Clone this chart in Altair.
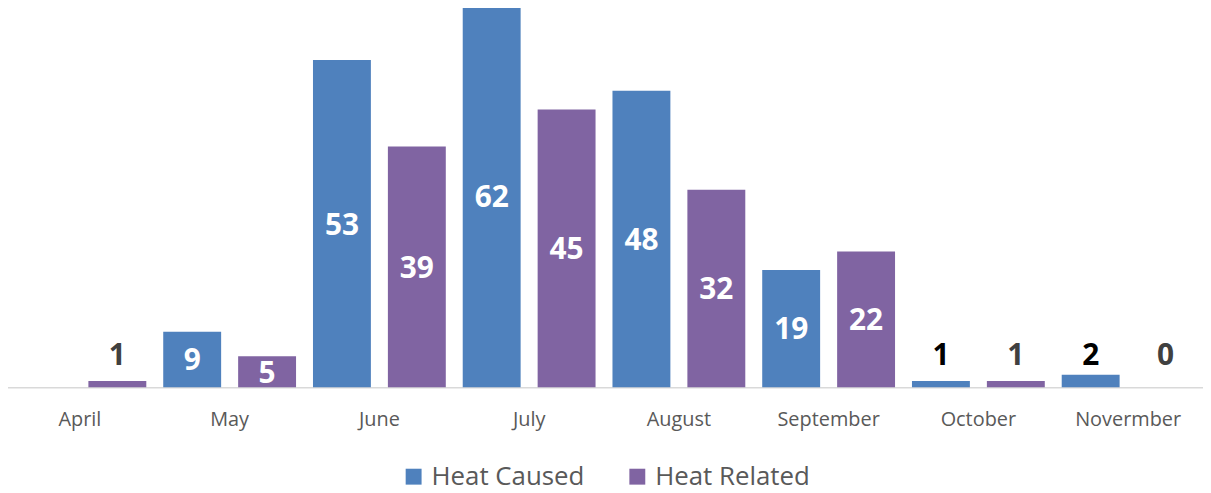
import altair as alt
import pandas as pd

months = ["April", "May", "June", "July", "August", "September", "October", "Novermber"]
heat_caused = [None, 9, 53, 62, 48, 19, 1, 2]
heat_related = [1, 5, 39, 45, 32, 22, 1, 0]
series = ["Heat Caused", "Heat Related"]
colors = ["#4F81BD", "#8064A2"]

rows = []
for i, m in enumerate(months):
    rows.append({"month": m, "series": series[0], "value": heat_caused[i]})
    rows.append({"month": m, "series": series[1], "value": heat_related[i]})
df = pd.DataFrame(rows)
df = df[df["value"].notna()]

FONT = "Open Sans"

x = alt.X("month:N", sort=months, title=None,
          scale=alt.Scale(paddingInner=0, paddingOuter=0),
          axis=alt.Axis(labelAngle=0, ticks=False, domain=True, domainColor="#d9d9d9",
                        domainWidth=1.5, labelFont=FONT, labelFontSize=20,
                        labelColor="#595959", labelPadding=23, grid=False))
xo = alt.XOffset("series:N", sort=series,
                 scale=alt.Scale(paddingInner=0.227, paddingOuter=0.113))
y_scale = alt.Scale(domain=[0, 62], nice=False)

bars = alt.Chart(df).mark_bar(clip=False).encode(
    x=x,
    xOffset=xo,
    y=alt.Y("value:Q", scale=y_scale, axis=None),
    color=alt.Color("series:N", sort=series,
                    scale=alt.Scale(domain=series, range=colors),
                    legend=alt.Legend(title=None, orient="none", direction="horizontal",
                                      legendX=398, legendY=462,
                                      symbolType="square", symbolSize=256,
                                      symbolStrokeWidth=0, labelFont=FONT,
                                      labelFontSize=26, labelColor="#595959",
                                      labelLimit=400,
                                      labelOffset=5, columnPadding=40)),
)

labels_in = alt.Chart(df).transform_filter("datum.value > 3").transform_calculate(
    ly="datum.value / 2"
).mark_text(font=FONT, fontSize=30, fontWeight="bold", color="white",
            baseline="middle", dy=2).encode(
    x=alt.X("month:N", sort=months),
    xOffset=xo,
    y=alt.Y("ly:Q", scale=y_scale),
    text=alt.Text("value:Q"),
)

labels_out = alt.Chart(df).transform_filter("datum.value <= 3").transform_calculate(
    ly="5.0"
).mark_text(font=FONT, fontSize=30, fontWeight="bold", baseline="middle").encode(
    x=alt.X("month:N", sort=months),
    xOffset=xo,
    y=alt.Y("ly:Q", scale=y_scale),
    text=alt.Text("value:Q"),
    color=alt.Color("series:N", sort=series,
                    scale=alt.Scale(domain=series, range=["#000000", "#404040"]),
                    legend=None),
)

chart = alt.layer(bars, labels_in, labels_out).resolve_scale(color="independent").properties(
    width=1205, height=385,
    autosize=alt.AutoSizeParams(type="none"),
    padding={"left": -3, "top": -5, "right": 0, "bottom": 105},
).configure_view(stroke=None)

chart.save("out.html", embed_options={"renderer": "svg", "actions": False})
